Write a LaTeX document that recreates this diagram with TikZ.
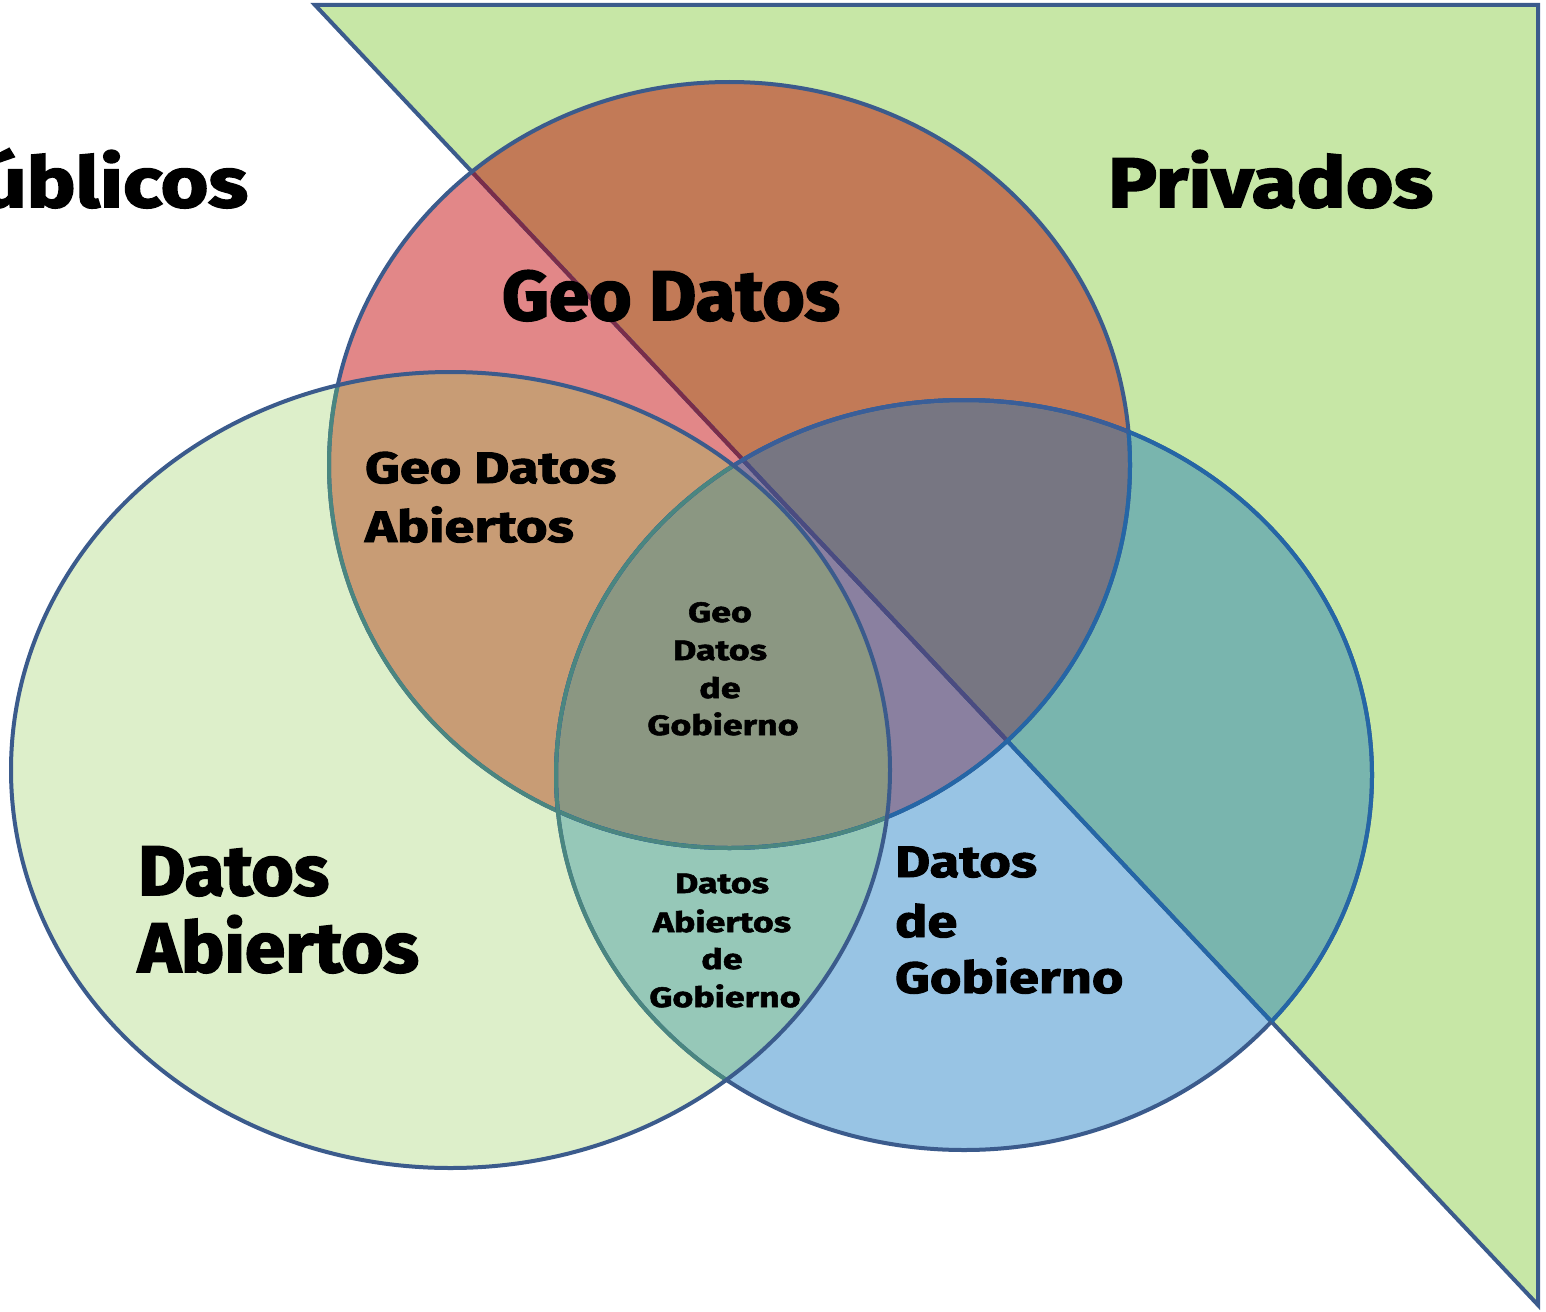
\documentclass[tikz,border=0pt]{standalone}
\usepackage{fontspec}
\newfontfamily\hvA[FakeBold=2.5,FakeStretch=1.17]{Fira Sans}
\newfontfamily\hvB[FakeBold=2.5,FakeStretch=1.04]{Fira Sans}
\newfontfamily\hvC[FakeBold=2.2,FakeStretch=1.23]{Fira Sans}
\newfontfamily\hvD[FakeBold=2,FakeStretch=1.28]{Fira Sans}
\definecolor{lineC}{HTML}{3B5B8C}
\definecolor{maroonL}{HTML}{7A2D4A}
\definecolor{blueL}{HTML}{2566A6}
\definecolor{blueT}{HTML}{3A5E98}
\definecolor{purpL}{HTML}{4B4B80}
\definecolor{tealL}{HTML}{4A8680}
\definecolor{triG}{HTML}{C7E7A6}
\definecolor{leftG}{HTML}{DDEFCA}
\definecolor{rightB}{HTML}{98C4E4}
\definecolor{rightT}{HTML}{79B5AE}
\definecolor{topP}{HTML}{E28788}
\definecolor{topB}{HTML}{C27A57}
\definecolor{tlC}{HTML}{C89C75}
\definecolor{lrC}{HTML}{96C8B8}
\definecolor{trO}{HTML}{8A80A0}
\definecolor{trI}{HTML}{777682}
\definecolor{tlrC}{HTML}{8B9782}
\def\TRI{(315,5) -- (1538,5) -- (1538,1305) -- cycle}
\def\TOPE{(729.5,465) ellipse [x radius=400.5pt, y radius=383pt]}
\def\LEFTE{(450.5,770) ellipse [x radius=439.5pt, y radius=398pt]}
\def\RIGHTE{(964,775) ellipse [x radius=408pt, y radius=375pt]}
\tikzset{
  lab/.style={inner sep=0pt, text=black},
  huge/.style={lab, font=\hvA\bfseries\fontsize{70}{70}\selectfont},
  big/.style={lab, font=\hvB\bfseries\fontsize{70}{70}\selectfont},
  mid/.style={lab, font=\hvC\bfseries\fontsize{44}{44}\selectfont},
  small/.style={lab, font=\hvD\bfseries\fontsize{28}{28}\selectfont},
}
\begin{document}
\begin{tikzpicture}[x=1pt,y=-1pt,line width=4pt]
\useasboundingbox (0,0) rectangle (1546,1311);
\coordinate (A) at (315,5);
\coordinate (B) at (1538,5);
\coordinate (C) at (1538,1305);
% fills
\fill[triG] \TRI;
\fill[leftG] \LEFTE;
\fill[rightB] \RIGHTE;
\begin{scope}\clip \TRI; \fill[rightT] \RIGHTE; \end{scope}
\fill[topP] \TOPE;
\begin{scope}\clip \TRI; \fill[topB] \TOPE; \end{scope}
\begin{scope}\clip \TOPE; \fill[tlC] \LEFTE; \end{scope}
\begin{scope}\clip \RIGHTE; \fill[lrC] \LEFTE; \end{scope}
\begin{scope}\clip \TOPE; \fill[trO] \RIGHTE; \clip \TRI; \fill[trI] \RIGHTE; \end{scope}
\begin{scope}\clip \TOPE; \clip \RIGHTE; \fill[tlrC] \LEFTE; \end{scope}
% triangle outline
\draw[lineC, line join=miter] (A) -- (B) -- (C) -- cycle;
\begin{scope}\clip \TOPE; \draw[maroonL] (A) -- (C); \end{scope}
\begin{scope}\clip \RIGHTE; \draw[blueL] (A) -- (C); \end{scope}
\begin{scope}\clip \TOPE; \clip \RIGHTE; \draw[purpL] (A) -- (C); \end{scope}
% top outline
\draw[lineC] \TOPE;
\begin{scope}\clip \RIGHTE; \draw[blueL] \TOPE; \end{scope}
\begin{scope}\clip \LEFTE; \draw[tealL] \TOPE; \end{scope}
% right outline
\draw[lineC] \RIGHTE;
\begin{scope}\clip \TRI; \draw[blueL] \RIGHTE; \end{scope}
\begin{scope}\clip \TOPE; \draw[blueT] \RIGHTE; \end{scope}
\begin{scope}\clip \LEFTE; \draw[tealL] \RIGHTE; \end{scope}
% left outline
\draw[lineC] \LEFTE;
% labels
\node[huge, anchor=base east] (pub) at (250,207) {Públicos};
\node[huge, anchor=base west] (priv) at (1106,207) {Privados};
\node[big, anchor=base west] (geo) at (500,320) {Geo Datos};
\node[mid, anchor=base west] (gda1) at (363,483) {Geo Datos};
\node[mid, anchor=base west] (gda2) at (363,542) {Abiertos};
\node[small, anchor=base] (gdg1) at (720,622) {Geo};
\node[small, anchor=base] (gdg2) at (720,660) {Datos};
\node[small, anchor=base] (gdg3) at (720,698) {de};
\node[small, anchor=base] (gdg4) at (723,735) {Gobierno};
\node[small, anchor=base] (dag1) at (722,893) {Datos};
\node[small, anchor=base] (dag2) at (722,932) {Abiertos};
\node[small, anchor=base] (dag3) at (722,969) {de};
\node[small, anchor=base] (dag4) at (725,1007) {Gobierno};
\node[mid, anchor=base west] (dg1) at (893,877) {Datos};
\node[mid, anchor=base west] (dg2) at (893,937) {de};
\node[mid, anchor=base west] (dg3) at (893,993) {Gobierno};
\node[big, anchor=base west] (da1) at (136,895) {Datos};
\node[big, anchor=base west] (da2) at (136,972) {Abiertos};
\end{tikzpicture}
\end{document}
